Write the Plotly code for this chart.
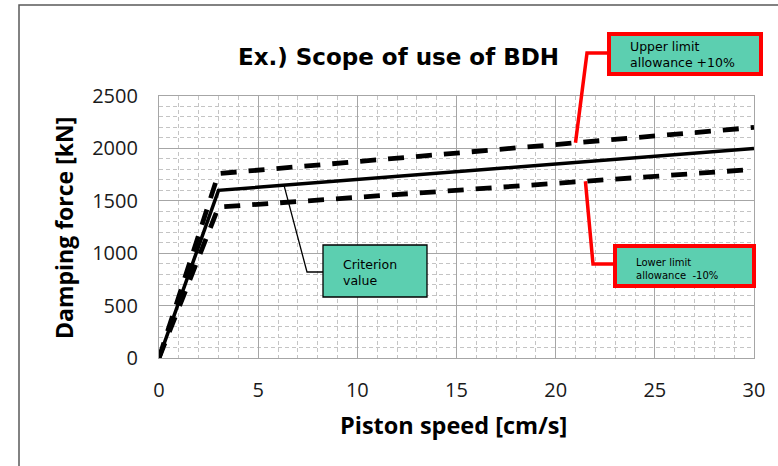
import numpy as np
import plotly.graph_objects as go

# ---- data ----
speed = [0, 3, 30]                 # cm/s
criterion = [0, 1600, 2000]        # kN
upper = [0, 1760, 2200]            # +10%
lower = [0, 1440, 1800]            # -10%

title_text = "Ex.) Scope of use of BDH"
x_title = "Piston speed [cm/s]"
y_title = "Damping force [kN]"
x_ticks = [0, 5, 10, 15, 20, 25, 30]
y_ticks = [0, 500, 1000, 1500, 2000, 2500]

# ---- layout geometry (pixels) ----
W, H = 778, 466
L, R, T, B = 159, 754, 96, 358
XMAX, YMAX = 30, 2500


def px(xp):
    return (xp - L) / (R - L)


def py(yp):
    return (B - yp) / (B - T)


def dx(v):
    return v / XMAX


def dy(v):
    return v / YMAX


fig = go.Figure()
fig.add_trace(go.Scatter(x=speed, y=upper, mode="lines",
                         line=dict(color="black", width=4.8, dash="16px,12px"),
                         hoverinfo="skip", showlegend=False))
fig.add_trace(go.Scatter(x=speed, y=lower, mode="lines",
                         line=dict(color="black", width=4.8, dash="16px,12px"),
                         hoverinfo="skip", showlegend=False))
fig.add_trace(go.Scatter(x=speed, y=criterion, mode="lines",
                         line=dict(color="black", width=3.5),
                         hoverinfo="skip", showlegend=False))

fill = "#5CCFB0"
shapes = []
annotations = []

# outer chart border
shapes.append(dict(type="rect", xref="paper", yref="paper",
                   x0=px(19), x1=px(800), y0=py(490), y1=py(5),
                   line=dict(color="#595959", width=1.5), fillcolor="rgba(0,0,0,0)"))

# upper limit callout
ux = 21
uy = float(np.interp(ux, speed, upper))
shapes.append(dict(type="path", xref="paper", yref="paper",
                   path=f"M {px(608)},{py(53)} L {px(587)},{py(53)} L {dx(ux)},{dy(uy)}",
                   line=dict(color="#FF0000", width=3.5)))
shapes.append(dict(type="rect", xref="paper", yref="paper",
                   x0=px(609), x1=px(761), y0=py(74), y1=py(34),
                   line=dict(color="#FF0000", width=4), fillcolor=fill))
annotations.append(dict(xref="paper", yref="paper", x=px(628), y=py(54),
                        xanchor="left", yanchor="middle", align="left", showarrow=False,
                        text="Upper limit<br>allowance +10%",
                        font=dict(family="DejaVu Sans", size=12.5, color="black")))

# lower limit callout
lx = 21.5
ly = float(np.interp(lx, speed, lower))
shapes.append(dict(type="path", xref="paper", yref="paper",
                   path=f"M {px(614)},{py(264)} L {px(593)},{py(264)} L {dx(lx)},{dy(ly)}",
                   line=dict(color="#FF0000", width=3.5)))
shapes.append(dict(type="rect", xref="paper", yref="paper",
                   x0=px(615), x1=px(754), y0=py(286), y1=py(246),
                   line=dict(color="#FF0000", width=4), fillcolor=fill))
annotations.append(dict(xref="paper", yref="paper", x=px(634), y=py(269),
                        xanchor="left", yanchor="middle", align="left", showarrow=False,
                        text="Lower limit<br>allowance  -10%",
                        font=dict(family="DejaVu Sans", size=10, color="black")))

# criterion callout
cx = 6.3
cy = float(np.interp(cx, speed, criterion))
shapes.append(dict(type="path", xref="paper", yref="paper",
                   path=f"M {px(323)},{py(272)} L {px(307)},{py(272)} L {dx(cx)},{dy(cy)}",
                   line=dict(color="black", width=1.3)))
shapes.append(dict(type="rect", xref="paper", yref="paper",
                   x0=px(323), x1=px(427), y0=py(297), y1=py(245),
                   line=dict(color="black", width=1.3), fillcolor=fill))
annotations.append(dict(xref="paper", yref="paper", x=px(341), y=py(272),
                        xanchor="left", yanchor="middle", align="left", showarrow=False,
                        text="Criterion<br>value",
                        font=dict(family="DejaVu Sans", size=12.5, color="black")))

# title
annotations.append(dict(xref="paper", yref="paper", x=px(398), y=py(57),
                        xanchor="center", yanchor="middle", showarrow=False,
                        text=f"<b>{title_text}</b>",
                        font=dict(family="DejaVu Sans", size=23, color="black")))
# axis titles
annotations.append(dict(xref="paper", yref="paper", x=px(453), y=py(425),
                        xanchor="center", yanchor="middle", showarrow=False,
                        text=f"<b>{x_title}</b>",
                        font=dict(family="Open Sans", size=23.5, color="black")))
annotations.append(dict(xref="paper", yref="paper", x=px(64), y=py(228),
                        xanchor="center", yanchor="middle", showarrow=False, textangle=-90,
                        text=f"<b>{y_title}</b>",
                        font=dict(family="Open Sans", size=23, color="black")))

axis_common = dict(showgrid=True, gridcolor="#A6A6A6", gridwidth=1.2,
                   showline=True, linecolor="#A6A6A6", linewidth=1.2, mirror=True,
                   zeroline=False, ticks="",
                   tickfont=dict(family="Open Sans", size=20, color="#1a1a1a"))

fig.update_xaxes(range=[0, XMAX], tickvals=x_ticks, ticklabelstandoff=14,
                 minor=dict(dtick=1, showgrid=True, gridcolor="#C4C4C4", griddash="4px,3px",
                            gridwidth=1),
                 **axis_common)
fig.update_yaxes(range=[0, YMAX], tickvals=y_ticks, ticklabelstandoff=16,
                 minor=dict(dtick=100, showgrid=True, gridcolor="#C4C4C4", griddash="4px,3px",
                            gridwidth=1),
                 **axis_common)

fig.update_layout(width=W, height=H,
                  margin=dict(l=L, r=W - R, t=T, b=H - B, pad=0),
                  paper_bgcolor="white", plot_bgcolor="white",
                  shapes=shapes, annotations=annotations, showlegend=False)

fig.write_html("out.html", config={"displayModeBar": False},
               post_script="document.body.style.margin='0';document.body.style.overflow='hidden';")
